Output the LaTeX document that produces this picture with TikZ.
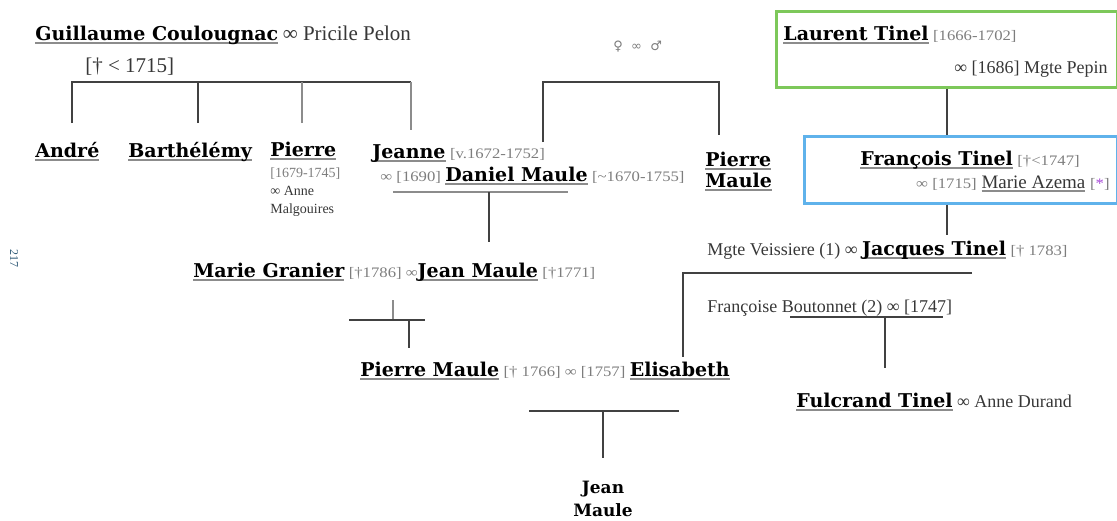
\documentclass[tikz,border=0pt]{standalone}
\usepackage{fontspec}
\setmainfont{Liberation Serif}
\newfontfamily\namefont{DejaVu Serif}
\newfontfamily\datefont{Liberation Serif}[FakeStretch=1.15]
\newfontfamily\symbfont{DejaVu Sans}
\usepackage{xcolor}
\usetikzlibrary{positioning, calc}

\definecolor{linegray}{RGB}{65,65,65}
\definecolor{lightline}{RGB}{140,140,140}
\definecolor{txtgray}{RGB}{55,55,55}
\definecolor{dategray}{RGB}{125,125,125}
\definecolor{boxgreen}{RGB}{125,200,90}
\definecolor{boxblue}{RGB}{95,178,235}
\definecolor{starpurple}{RGB}{165,70,215}

\newsavebox\ulbox
\newcommand\ulgray[1]{\sbox\ulbox{#1}\rlap{\textcolor{lightline}{\rule[-3.6pt]{\wd\ulbox}{1.8pt}}}\usebox\ulbox}
\newcommand\nm[1]{{\namefont\bfseries\fontsize{19}{22}\selectfont\color{black}\ulgray{#1}}}
\newcommand\nmb[1]{{\namefont\bfseries\fontsize{17}{24}\selectfont\color{black}#1}}
\newcommand\dt[1]{{\datefont\fontsize{14.5}{17}\selectfont\color{dategray}#1}}

\begin{document}
\begin{tikzpicture}[x=1pt, y=-1pt, thick]
  \tikzstyle{txt} = [inner sep=0pt, anchor=base west, text=txtgray, font=\fontsize{18}{21}\selectfont]
  \tikzstyle{ln} = [draw=linegray, line width=1.8pt]
  \tikzstyle{lnl} = [draw=lightline, line width=1.8pt]
  \tikzstyle{famebox} = [draw, line width=2.6pt, anchor=north west, inner sep=0pt]

  \useasboundingbox (0,0) rectangle (1117,520);

  % Coulougnac family
  \node[txt] (gc) at (35,40) {\nm{Guillaume Coulougnac} {\fontsize{21}{24}\selectfont ∞ Pricile Pelon}};
  \node[txt, font=\fontsize{21}{24}\selectfont] (gcd) at (85,72) {[† < 1715]};
  \node[txt] (andre) at (35,157) {\nm{André}};
  \node[txt] (barth) at (128,157) {\nm{Barthélémy}};
  \node[txt] (pierre) at (270,156) {\nm{Pierre}};
  \node[txt, align=left, font=\fontsize{14}{18}\selectfont] (pierred) at (270,213) {\textcolor{dategray}{[1679-1745]}\\∞ Anne\\Malgouires};
  \node[txt] (jeanne) at (372,158) {\nm{Jeanne} \dt{[v.1672-1752]}};
  \node[txt] (daniel) at (380,181) {\dt{∞ [1690]} \nm{Daniel Maule} \dt{[\textasciitilde1670-1755]}};

  % Maule siblings
  \node[txt, font=\symbfont\fontsize{13}{15}\selectfont, text=dategray] (sym) at (613,50) {♀ \ ∞ \ ♂};
  \node[txt, align=left] (pmr) at (705,187) {\nm{Pierre}\\\nm{Maule}};

  % Tinel family
  \node[famebox, draw=boxgreen, minimum width=341pt, minimum height=76pt] (ltbox) at (775,10) {};
  \node[txt] (lt) at (783,40) {\nm{Laurent Tinel} \dt{[1666-1702]}};
  \node[txt, anchor=base east] (ltm) at (1108,73) {∞ [1686] Mgte Pepin};
  \node[famebox, draw=boxblue, minimum width=313pt, minimum height=67pt] (ftbox) at (803,135) {};
  \node[txt] (ft) at (860,165) {\nm{François Tinel} \dt{[†<1747]}};
  \node[txt, anchor=base east, font=\fontsize{19}{22}\selectfont] (ftm) at (1110,188) {\dt{∞ [1715]} \ulgray{Marie Azema} \dt{[\textcolor{starpurple}{*}]}};
  \node[txt] (jacques) at (707,255) {Mgte Veissiere (1) ∞ \nm{Jacques Tinel} \dt{[† 1783]}};
  \node[txt] (francoise) at (707,312) {Françoise Boutonnet (2) ∞ [1747]};
  \node[txt] (fulcrand) at (796,407) {\nm{Fulcrand Tinel} ∞ Anne Durand};

  % Maule descendants
  \node[txt] (mgr) at (193,277) {\nm{Marie Granier} \dt{[†1786] ∞}\nm{Jean Maule} \dt{[†1771]}};
  \node[txt] (pm) at (360,376) {\nm{Pierre Maule} \dt{[† 1766] ∞ [1757]} \nm{Elisabeth}};
  \node[txt, anchor=north, align=center] (jm) at (603,481) {\nmb{Jean}\\[2pt]\nmb{Maule}};

  \node[txt, anchor=center, rotate=-90, font=\fontsize{12}{14}\selectfont, text=boxblue!50!black] (folio) at (14,258) {217};

  % connectors
  \draw[ln] ($(andre.base west)+(37,-34)$) |- ($(jeanne.base west)+(39,-76)$);
  \draw[lnl] ($(jeanne.base west)+(39,-76)$) -- ($(jeanne.base west)+(39,-28)$);
  \draw[ln] ($(barth.base west)+(70,-34)$) -- ++(0,-41);
  \draw[lnl] ($(pierre.base west)+(32,-33)$) -- ++(0,-41);

  \draw[lnl, line width=2.6pt] ($(daniel.base west)+(13,11)$) -- ++(175,0);
  \draw[ln] ($(daniel.base west)+(109,11)$) -- ($(mgr.base west)+(296,-35)$);

  \draw[ln] ($(jeanne.base west)+(171,-16)$) |- ($(pmr.base west)+(14,-105)$) -- ($(pmr.base west)+(14,-52)$);

  \draw[lnl] ($(mgr.base west)+(200,23)$) -- ++(0,20);
  \draw[ln] ($(pm.base west)+(-11,-56)$) -- ++(76,0);
  \draw[ln] ($(pm.base west)+(49,-56)$) -- ++(0,28);

  \draw[ln] (ltbox.south) -- (ltbox.south |- ftbox.north);
  \draw[ln] (ftbox.south -| ltbox.south) -- ++(0,30);

  \draw[ln] ($(jacques.base west)+(265,18)$) -| ($(pm.base west)+(323,-19)$);
  \draw[ln] ($(francoise.base west)+(83,5)$) -- ++(153,0);
  \draw[ln] ($(francoise.base west)+(178,5)$) -- ($(fulcrand.base west)+(89,-39)$);

  \draw[ln] ($(pm.base west)+(169,35)$) -- ++(150,0);
  \draw[ln] ($(pm.base west)+(243,35)$) -- ($(jm.north)+(0,-23)$);
\end{tikzpicture}
\end{document}
